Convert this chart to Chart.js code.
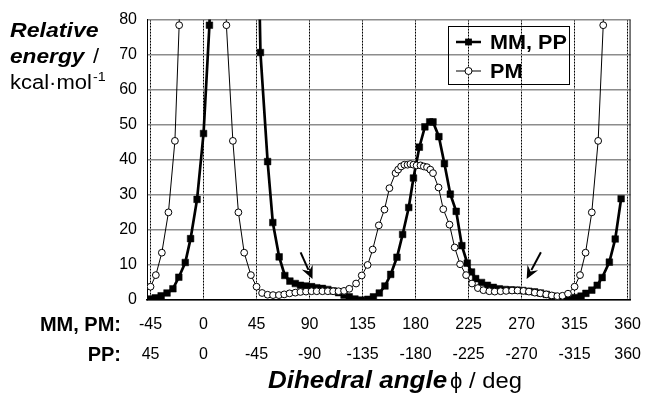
<!DOCTYPE html>
<html><head><meta charset="utf-8">
<script src="https://cdn.jsdelivr.net/npm/chart.js@4/dist/chart.umd.min.js"></script>
<style>html,body{margin:0;padding:0;background:#fff}#wrap{width:651px;height:393px}</style>
</head><body><div id="wrap"><canvas id="c" width="651" height="393"></canvas></div>
<script>
// ---- data ----
const xTickValues = [-45, 0, 45, 90, 135, 180, 225, 270, 315, 360];
const xLabelsMMPM = ['-45','0','45','90','135','180','225','270','315','360'];
const xLabelsPP   = ['45','0','-45','-90','-135','-180','-225','-270','-315','360'];
const yTickValues = [0, 10, 20, 30, 40, 50, 60, 70, 80];
const rowNames = ['MM, PM:', 'PP:'];
const seriesNames = ['MM, PP', 'PM'];

const mmppAngle = [-45,-41,-36,-31,-26,-21,-15.5,-11,-5.5,0,5,9.5,45,48.3,54.4,58.8,64.2,69,73.3,77.9,82.3,87,91.7,96.1,100.9,105.5,110,114.6,119.3,123.7,128.5,134,139.5,144.2,149.2,154,158.9,164.2,169,174.2,178.2,183.2,187.9,192,194.8,199.8,204.5,209.5,214.5,219.3,223.9,227.5,231,236,241,246,251,256,261,266,271,276,281,286,291,296,300.5,305.5,310.8,315.7,320.5,324.6,329.6,334.2,338.4,344.5,349.5,354.5];
const mmppEnergy = [0.3,0.6,1.2,2.0,3.2,6.5,10.7,17.5,28.7,47.5,78.4,130,130,70.6,39.5,22.1,12.3,7.0,5.4,4.7,4.2,4.0,3.8,3.5,3.3,3.0,2.6,2.1,1.4,0.9,0.3,0,0.2,0.9,2.0,4.0,7.3,12.2,18.7,26.4,34.8,43.6,49.4,50.8,50.8,46.6,38.9,30.2,25.3,15.5,10.5,8.0,6.1,5.0,4.2,3.6,3.2,3.0,2.9,2.8,2.7,2.5,2.3,2.0,1.6,1.1,0.6,0.4,0.4,0.7,1.1,1.9,2.8,4.2,6.4,10.8,17.4,28.9];

const pmAngle = [-45,-40.5,-35.4,-29.8,-24.3,-20.7,-16,16,19.4,24.9,29.6,34.5,40.2,45,49.7,54.4,59,64,68.5,73,77.9,82.3,87,91.7,96.1,100.9,105.5,110,114.6,119.3,123.7,129.5,134.3,139.3,143.6,148.8,153.6,157.8,163,165.2,167.7,170.5,173.2,175.6,178.2,180.9,184.2,187,189.7,192.5,194.8,199.5,203.5,208.8,213.2,217.8,222.9,227.9,232.9,237.6,242.6,247.2,252.2,256.9,261.9,266.6,271.6,276.2,281.2,285.9,290.9,295.6,300.3,304.7,309.4,315,319.6,324.3,329.6,335,339.3,344];
const pmEnergy = [3.8,7.1,13.5,25,45.4,78.4,160,160,78.4,45.4,25,13.5,7.1,3.8,2.0,1.5,1.4,1.4,1.6,1.9,2.1,2.3,2.4,2.5,2.5,2.5,2.5,2.5,2.5,2.6,3.2,4.7,7.0,10.0,14.4,21.3,25.8,31.9,36.2,37.2,38.1,38.6,38.6,38.8,38.6,38.4,38.4,38.1,37.9,37.2,36.2,32.1,25.9,21.5,15.0,10.2,7.1,4.7,3.4,2.8,2.5,2.4,2.5,2.6,2.7,2.7,2.6,2.4,2.1,1.9,1.6,1.3,1.1,1.2,1.8,3.8,7.1,13.5,25,45.4,78.4,160];

const arrowTail = [[82.4, 13.6], [286.4, 13.6]];
const arrowTip  = [[92.5, 6.0], [274.3, 6.0]];

// ---- chart ----
const FONT = '"Liberation Sans", Arial, Helvetica, sans-serif';
const toPts = (xs, ys) => xs.map((x, i) => ({x: x, y: ys[i]}));

function stretchText(ctx, text, x, y, font, sx, align) {
  ctx.save();
  ctx.font = font;
  const w = ctx.measureText(text).width * sx;
  let x0 = x;
  if (align === 'right') x0 = x - w;
  else if (align === 'center') x0 = x - w / 2;
  ctx.translate(x0, y);
  ctx.scale(sx, 1);
  ctx.textAlign = 'left';
  ctx.fillText(text, 0, 0);
  ctx.restore();
  return w;
}

const decorPlugin = {
  id: 'decor',
  beforeDatasetsDraw(chart) {
    const {ctx, chartArea: a} = chart;
    ctx.save();
    ctx.strokeStyle = '#000';
    ctx.lineWidth = 1;
    ctx.beginPath();
    ctx.moveTo(a.right - 0.5, a.top); ctx.lineTo(a.right - 0.5, a.bottom);
    ctx.stroke();
    ctx.restore();
  },
  afterDraw(chart) {
    const {ctx} = chart;
    const xs = chart.scales.x, ys = chart.scales.y;
    ctx.save();
    ctx.fillStyle = '#000';
    ctx.textBaseline = 'alphabetic';
    // y axis title
    stretchText(ctx, 'Relative', 10, 37, 'italic bold 21px ' + FONT, 1.1);
    stretchText(ctx, 'energy', 10, 63, 'italic bold 21px ' + FONT, 1.08);
    stretchText(ctx, '/', 93, 63, '20px ' + FONT, 1.1);
    const kw = stretchText(ctx, 'kcal\u00B7mol', 10, 89, '20px ' + FONT, 1.1);
    stretchText(ctx, '-1', 10 + kw + 1, 81, '13px ' + FONT, 1.1);
    // x row names
    ctx.textBaseline = 'middle';
    stretchText(ctx, rowNames[0], 121, 325, 'bold 20px ' + FONT, 1.0, 'right');
    stretchText(ctx, rowNames[1], 121, 355, 'bold 20px ' + FONT, 1.0, 'right');
    // x title
    ctx.textBaseline = 'alphabetic';
    let tx = 268;
    tx += stretchText(ctx, 'Dihedral angle', tx, 388, 'italic bold 23px ' + FONT, 1.13);
    tx += 3;
    tx += stretchText(ctx, '\u03D5', tx, 388, '22px ' + FONT, 1.0);
    stretchText(ctx, ' / deg', tx, 388, '22px ' + FONT, 1.08);
    // legend
    ctx.strokeStyle = '#000';
    ctx.lineWidth = 1;
    ctx.strokeRect(448.5, 26.5, 121, 58);
    const ly = [42, 71];
    ctx.lineWidth = 2.5;
    ctx.beginPath(); ctx.moveTo(456, ly[0]); ctx.lineTo(481, ly[0]); ctx.stroke();
    ctx.fillRect(468.5 - 3.4, ly[0] - 3.4, 6.8, 6.8);
    ctx.lineWidth = 1;
    ctx.beginPath(); ctx.moveTo(456, ly[1]); ctx.lineTo(481, ly[1]); ctx.stroke();
    ctx.beginPath(); ctx.arc(468.5, ly[1], 3.5, 0, Math.PI * 2);
    ctx.fillStyle = '#fff'; ctx.fill(); ctx.stroke();
    ctx.fillStyle = '#000';
    ctx.textBaseline = 'middle';
    stretchText(ctx, seriesNames[0], 490, ly[0] + 1, 'bold 20px ' + FONT, 1.08);
    stretchText(ctx, seriesNames[1], 490, ly[1] + 1, 'bold 20px ' + FONT, 1.08);
    // arrows
    for (let i = 0; i < arrowTail.length; i++) {
      const x1 = xs.getPixelForValue(arrowTail[i][0]), y1 = ys.getPixelForValue(arrowTail[i][1]);
      const x2 = xs.getPixelForValue(arrowTip[i][0]), y2 = ys.getPixelForValue(arrowTip[i][1]);
      const ang = Math.atan2(y2 - y1, x2 - x1);
      const L = 13, H = 6;
      const bx = x2 - L * Math.cos(ang), by = y2 - L * Math.sin(ang);
      ctx.strokeStyle = '#000';
      ctx.lineWidth = 2;
      ctx.beginPath(); ctx.moveTo(x1, y1); ctx.lineTo(bx + 3 * Math.cos(ang), by + 3 * Math.sin(ang)); ctx.stroke();
      ctx.beginPath();
      ctx.moveTo(x2, y2);
      ctx.lineTo(bx + H * Math.sin(ang), by - H * Math.cos(ang));
      ctx.lineTo(bx + 0.35 * L * Math.cos(ang), by + 0.35 * L * Math.sin(ang));
      ctx.lineTo(bx - H * Math.sin(ang), by + H * Math.cos(ang));
      ctx.closePath(); ctx.fill();
    }
    ctx.restore();
  }
};

new Chart(document.getElementById('c'), {
  type: 'scatter',
  data: {
    datasets: [
      { label: seriesNames[0], data: toPts(mmppAngle, mmppEnergy), showLine: true,
        borderColor: '#000', borderWidth: 2.7, pointStyle: 'rect', pointRadius: 4.7,
        pointBackgroundColor: '#000', pointBorderColor: '#000', pointBorderWidth: 0.5, order: 2 },
      { label: seriesNames[1], data: toPts(pmAngle, pmEnergy), showLine: true,
        borderColor: '#000', borderWidth: 1, pointStyle: 'circle', pointRadius: 3.4,
        pointBackgroundColor: '#fff', pointBorderColor: '#000', pointBorderWidth: 1, order: 1 }
    ]
  },
  options: {
    responsive: false, animation: false, devicePixelRatio: 1,
    layout: { padding: { top: 17, right: 8, left: 0, bottom: 0 } },
    plugins: { legend: { display: false }, tooltip: { enabled: false } },
    scales: {
      x: {
        type: 'linear', min: -48, max: 362.5,
        afterBuildTicks: s => { s.ticks = xTickValues.map(v => ({ value: v })); },
        afterFit: s => { s.height = 93; },
        ticks: { autoSkip: false, maxRotation: 0, padding: 10, color: '#000',
          font: { family: FONT, size: 16, lineHeight: 1.875 },
          callback: (v, i) => [xLabelsMMPM[i], xLabelsPP[i]] },
        grid: { color: '#000', lineWidth: 1, drawTicks: false },
        border: { display: true, color: '#000', width: 1.5, dash: [2, 1] }
      },
      y: {
        type: 'linear', min: 0, max: 80,
        afterBuildTicks: s => { s.ticks = yTickValues.map(v => ({ value: v })); },
        afterFit: s => { s.width = 147; },
        ticks: { padding: 10, color: '#000', font: { family: FONT, size: 16 } },
        grid: { color: '#8c8c8c', lineWidth: 1.5, drawTicks: false },
        border: { display: true, color: '#000', width: 1 }
      }
    }
  },
  plugins: [decorPlugin]
});
</script>
</body></html>
